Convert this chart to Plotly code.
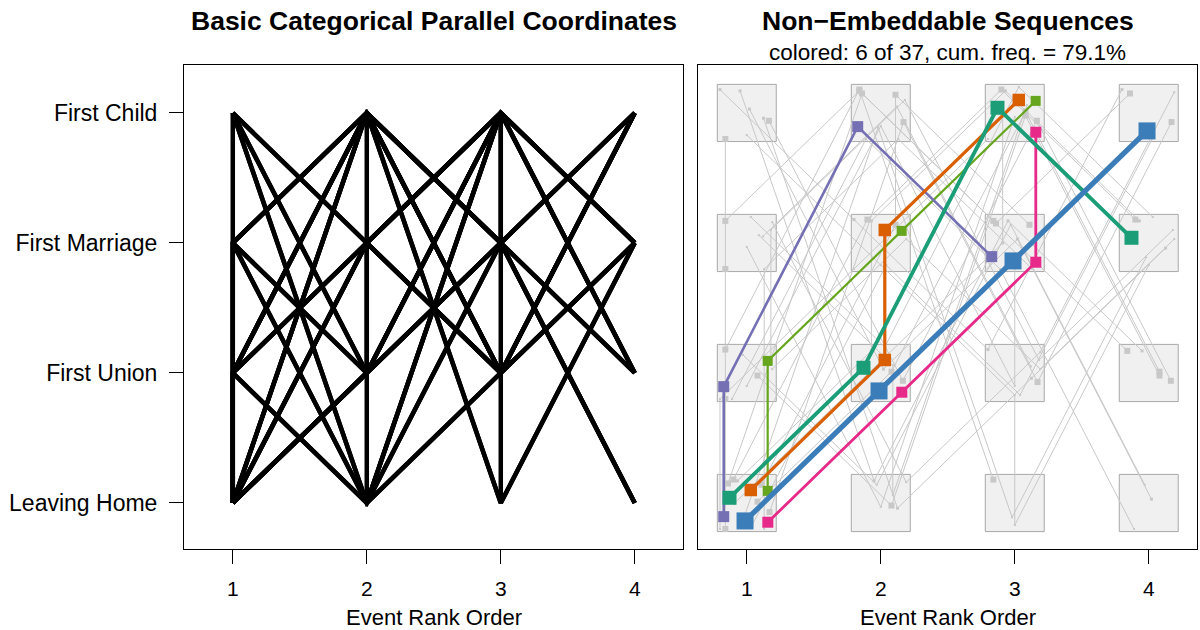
import plotly.graph_objects as go

# ---------------- data ----------------
rank_ticks = [1, 2, 3, 4]
state_codes = [1, 2, 3, 4]
state_labels = ["Leaving Home", "First Union", "First Marriage", "First Child"]

# six most frequent (coloured) sequences: event rank and state code of each event
top_ranks = [
    [1, 1, 2, 3],      # green
    [1, 1, 2, 3],      # purple
    [1, 2, 3, 3],      # pink
    [1, 2, 2, 3],      # orange
    [1, 2, 3, 4],      # teal
    [1, 2, 3, 4],      # blue
]
top_states = [
    [1, 2, 3, 4],
    [1, 2, 4, 3],
    [1, 2, 3, 4],
    [1, 2, 3, 4],
    [1, 2, 4, 3],
    [1, 2, 3, 4],
]
top_jitter_x = [0.156, -0.172, 0.157, 0.030, -0.129, -0.013]
top_jitter_y = [0.093, -0.105, -0.148, 0.100, 0.040, -0.138]

# remaining (grey) sequences
rest_ranks = [
    [1, 2, 3, 4], [1, 2, 3, 4], [1, 2, 3, 4], [1, 2, 3, 4], [1, 2, 3, 4],
    [1, 1, 1, 1], [1, 2, 3, 4], [1, 2, 3, 4], [1, 2, 3], [1, 2, 3],
    [1, 2, 3, 4], [1, 2, 3], [1, 2, 3, 3, 4], [1, 2, 3, 4], [1, 2, 3, 4],
    [1, 2, 3, 4], [1, 2, 3, 4], [1, 2, 3, 4], [1, 2, 3, 4], [1, 2, 3, 4],
    [1, 1, 2, 3], [1, 1, 2, 3], [1, 2, 2, 3], [1, 2, 2, 3, 4], [1, 2, 3, 4],
    [1, 2, 3, 4], [1, 2, 3, 3], [1, 2, 3, 4], [1, 1, 2, 3, 4], [1, 2, 2, 3],
    [1, 2, 3, 3, 4],
]
rest_states = [
    [4, 3, 2, 4], [4, 1, 3, 2], [4, 2, 3, 1], [4, 1, 2, 3], [4, 2, 4, 2],
    [1, 2, 3, 4], [3, 4, 3, 2], [3, 2, 4, 3], [3, 1, 4], [3, 4, 2],
    [3, 1, 2, 4], [2, 4, 1], [2, 4, 2, 3, 4], [2, 1, 4, 2], [2, 3, 2, 3],
    [2, 4, 3, 1], [1, 4, 3, 4], [1, 3, 4, 3], [1, 2, 4, 2], [1, 4, 2, 4],
    [1, 2, 3, 4], [1, 3, 4, 3], [1, 3, 4, 3], [1, 2, 3, 4, 3], [1, 4, 1, 3],
    [1, 3, 2, 4], [1, 2, 3, 4], [2, 1, 3, 1], [2, 3, 4, 2, 3], [3, 2, 1, 4],
    [4, 3, 2, 1, 3],
]
rest_jitter_x = [-0.20, -0.05, 0.02, 0.125, 0.165, -0.16, -0.16, 0.03, 0.00, 0.12,
                 0.19, -0.16, 0.00, 0.08, 0.19, -0.11, -0.14, -0.10, 0.08, 0.17,
                 -0.20, 0.13, 0.11, -0.07, -0.02, 0.04, -0.09, -0.03, 0.18, 0.09,
                 0.00]
rest_jitter_y = [0.18, 0.17, 0.03, -0.04, -0.06, -0.20, 0.17, 0.20, -0.03, 0.05,
                 0.16, 0.18, -0.10, -0.02, 0.03, -0.20, 0.15, 0.18, 0.01, -0.07,
                 -0.20, -0.20, 0.14, 0.17, -0.11, -0.17, 0.00, 0.14, 0.10, 0.06,
                 -0.17]

# ---------------- styles ----------------
top_colors = ["#66A61E", "#7570B3", "#E7298A", "#D95F02", "#1B9E77", "#3A7DB8"]
top_widths = [2.2, 2.6, 2.8, 3.2, 3.8, 5.2]
top_marker = [10, 11, 11, 12.5, 14, 17]
rest_marker = [3, 3, 3, 3, 6, 6, 6, 2, 2, 2, 2, 6, 2, 6, 2, 2, 6, 6, 6, 6,
               2, 2, 6, 3, 2, 2, 3, 2, 2, 2, 2]
FONT = "Liberation Sans, Arial, Helvetica, sans-serif"
GREY = "rgb(200,200,200)"

fig = go.Figure()

# ---------------- left panel: basic parallel coordinates ----------------
all_ranks = top_ranks + rest_ranks
all_states = top_states + rest_states
lx, ly = [], []
for rk, st in zip(all_ranks, all_states):
    lx += list(rk) + [None]
    ly += list(st) + [None]
fig.add_trace(go.Scatter(x=lx, y=ly, mode="lines", xaxis="x", yaxis="y",
                         line=dict(color="black", width=4.5), hoverinfo="skip",
                         showlegend=False))

# ---------------- right panel ----------------
shapes = []
for r in rank_ticks:
    for s in state_codes:
        shapes.append(dict(type="rect", xref="x2", yref="y2",
                           x0=r - 0.22, x1=r + 0.22, y0=s - 0.22, y1=s + 0.22,
                           fillcolor="#F0F0F0", line=dict(color="#A8A8A8", width=1),
                           layer="below"))

for rk, st, jx, jy, ms in zip(rest_ranks, rest_states, rest_jitter_x, rest_jitter_y, rest_marker):
    xs = [r + jx for r in rk]
    ys = [s + jy for s in st]
    fig.add_trace(go.Scatter(x=xs, y=ys, mode="lines+markers", xaxis="x2", yaxis="y2",
                             line=dict(color=GREY, width=1),
                             marker=dict(symbol="square", size=ms, color=GREY, line=dict(width=0)),
                             hoverinfo="skip", showlegend=False))

for rk, st, jx, jy, c, w, ms in zip(top_ranks, top_states, top_jitter_x, top_jitter_y,
                                    top_colors, top_widths, top_marker):
    xs = [r + jx for r in rk]
    ys = [s + jy for s in st]
    fig.add_trace(go.Scatter(x=xs, y=ys, mode="lines+markers", xaxis="x2", yaxis="y2",
                             line=dict(color=c, width=w),
                             marker=dict(symbol="square", size=ms, color=c, line=dict(width=0)),
                             hoverinfo="skip", showlegend=False))

W, H = 1200, 630
L_dom = [184 / W, 683 / W]
R_dom = [698 / W, 1197 / W]
Y_dom = [(H - 549) / H, (H - 65) / H]
XR = [0.636, 4.36]
YR = [0.646, 4.369]

axis_common = dict(showline=True, mirror=True, linecolor="black", linewidth=1,
                   showgrid=False, zeroline=False)
yfont = dict(family=FONT, size=23, color="black")
xfont = dict(family=FONT, size=21, color="black")

fig.update_layout(
    width=W, height=H, margin=dict(l=0, r=0, t=0, b=0),
    paper_bgcolor="white", plot_bgcolor="white",
    font=dict(family=FONT, color="black"),
    shapes=shapes,
    xaxis=dict(domain=L_dom, range=XR, tickvals=rank_ticks, ticks="outside", ticklen=14,
               tickcolor="black", ticklabelstandoff=7, anchor="y", tickfont=xfont,
               **axis_common),
    yaxis=dict(domain=Y_dom, range=YR, tickvals=state_codes, ticktext=state_labels,
               ticks="outside", ticklen=14, tickcolor="black", ticklabelstandoff=7,
               anchor="x", tickfont=yfont, **axis_common),
    xaxis2=dict(domain=R_dom, range=XR, tickvals=rank_ticks, ticks="outside", ticklen=14,
                tickcolor="black", ticklabelstandoff=7, anchor="y2", tickfont=xfont,
                **axis_common),
    yaxis2=dict(domain=Y_dom, range=YR, showticklabels=False, ticks="", anchor="x2",
                **axis_common),
)

ann = [
    dict(text="<b>Basic Categorical Parallel Coordinates</b>", x=sum(L_dom) / 2, y=1 - 21 / H,
         font=dict(size=26.5)),
    dict(text="<b>Non\u2212Embeddable Sequences</b>", x=sum(R_dom) / 2, y=1 - 21 / H,
         font=dict(size=26.5)),
    dict(text="colored: 6 of 37, cum. freq. = 79.1%", x=sum(R_dom) / 2, y=1 - 52 / H,
         font=dict(size=22.5)),
    dict(text="Event Rank Order", x=sum(L_dom) / 2, y=(H - 617) / H, font=dict(size=22)),
    dict(text="Event Rank Order", x=sum(R_dom) / 2, y=(H - 617) / H, font=dict(size=22)),
]
for a in ann:
    a.update(xref="paper", yref="paper", showarrow=False, xanchor="center", yanchor="middle")
    a["font"].update(family=FONT, color="black")
fig.update_layout(annotations=ann)

fig.write_html("out.html")
